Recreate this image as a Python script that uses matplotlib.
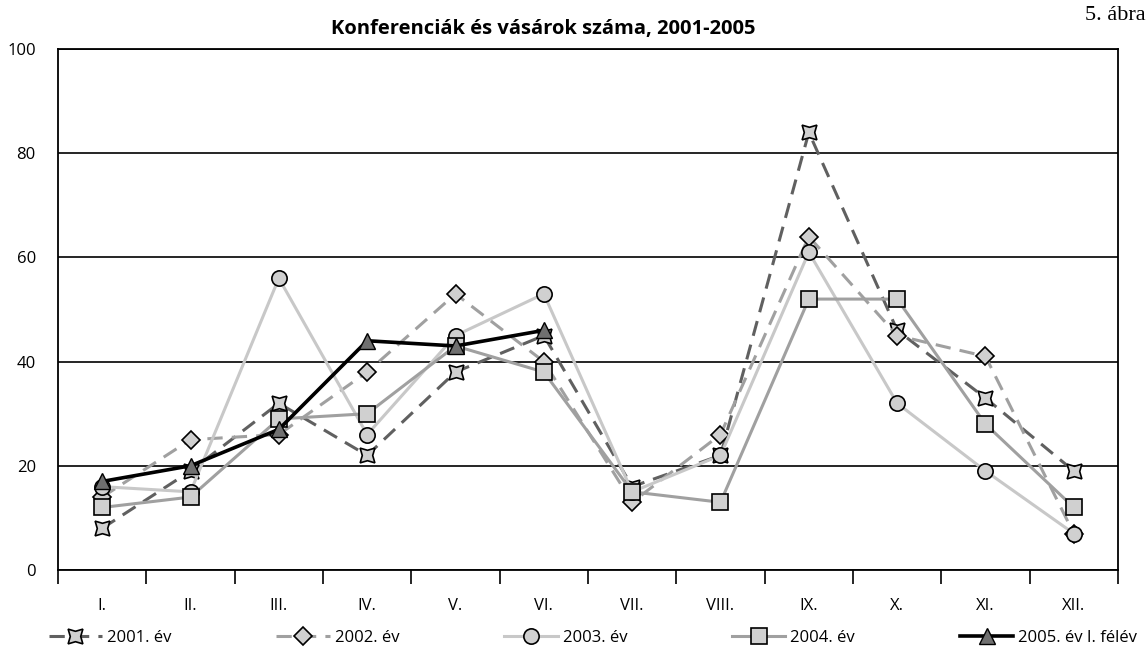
import numpy as np
import matplotlib.pyplot as plt

months = ["I.", "II.", "III.", "IV.", "V.", "VI.", "VII.", "VIII.", "IX.", "X.", "XI.", "XII."]
y2001 = [8, 19, 32, 22, 38, 45, 16, 22, 84, 46, 33, 19]
y2002 = [14, 25, 26, 38, 53, 40, 13, 26, 64, 45, 41, 7]
y2003 = [16, 15, 56, 26, 45, 53, 15, 22, 61, 32, 19, 7]
y2004 = [12, 14, 29, 30, 43, 38, 15, 13, 52, 52, 28, 12]
y2005 = [17, 20, 27, 44, 43, 46]
labels = ["2001. év", "2002. év", "2003. év", "2004. év", "2005. év I. félév"]

plt.rcParams['font.family'] = ['Open Sans', 'DejaVu Sans']

fig = plt.figure(figsize=(11.48, 6.53), dpi=100)
ax = fig.add_axes([58/1148, 83/653, 1060/1148, 521/653])

x = np.arange(len(months))
mface = "#d0d0d0"
ms = 11
ax.plot(x, y2001, color="#606060", lw=2.2, ls=(0, (5, 3)), marker=(4, 1, 45),
        ms=15, mfc=mface, mec="black", mew=1.2, label=labels[0], zorder=3)
ax.plot(x, y2002, color="#a0a0a0", lw=2.2, ls=(0, (5, 3)), marker="D",
        ms=9, mfc=mface, mec="black", mew=1.2, label=labels[1], zorder=3)
ax.plot(x, y2003, color="#c8c8c8", lw=2.2, marker="o",
        ms=ms, mfc=mface, mec="black", mew=1.2, label=labels[2], zorder=3)
ax.plot(x, y2004, color="#a0a0a0", lw=2.2, marker="s",
        ms=ms, mfc=mface, mec="black", mew=1.2, label=labels[3], zorder=3)
ax.plot(x[:len(y2005)], y2005, color="black", lw=2.6, marker="^",
        ms=12, mfc="#707070", mec="black", mew=1.0, label=labels[4], zorder=4)

ax.set_xlim(-0.5, len(months) - 0.5)
ax.set_ylim(0, 100)
ax.set_yticks(range(0, 101, 20))
ax.yaxis.grid(True, color="black", lw=1.2)
ax.set_axisbelow(True)
ax.tick_params(axis="y", length=0, pad=16, labelsize=12)

# ticks between months, labels centred on months
ax.set_xticks(np.arange(-0.5, len(months)), minor=False)
ax.set_xticklabels([])
ax.set_xticks(x, minor=True)
ax.set_xticklabels(months, minor=True, fontsize=12)
ax.tick_params(axis="x", which="major", direction="out", length=10, width=1.2, color="black")
ax.tick_params(axis="x", which="minor", length=0, pad=20)

for s in ax.spines.values():
    s.set_linewidth(1.3)

fig.text(0.473, 0.955, "Konferenciák és vásárok száma, 2001-2005", ha="center",
         va="center", fontsize=14.5, fontweight="bold")
fig.text(0.998, 0.977, "5. ábra", ha="right", va="center", fontsize=16,
         family="Liberation Serif")

fig.legend(loc="lower center", bbox_to_anchor=(0.5166, -0.012), ncol=5, frameon=False,
           fontsize=12, handlelength=3.2, columnspacing=6.3, handletextpad=0.3)

fig.savefig("out.png", dpi=100)
